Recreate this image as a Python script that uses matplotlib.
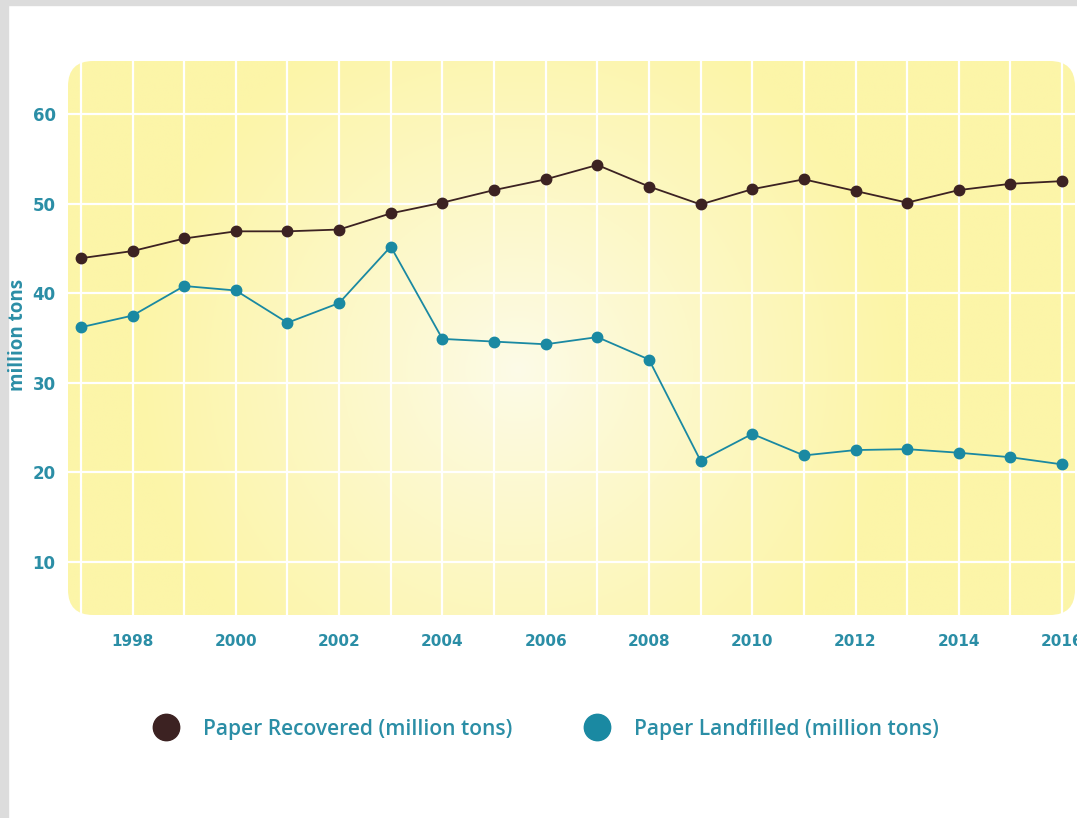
import numpy as np
import matplotlib
matplotlib.use("Agg")
from matplotlib import pyplot as plt
from matplotlib.patches import FancyBboxPatch, Rectangle
from matplotlib.lines import Line2D

years = list(range(1997, 2017))
recovered = [43.9, 44.7, 46.1, 46.9, 46.9, 47.1, 48.9, 50.1, 51.5, 52.7,
             54.3, 51.9, 49.9, 51.6, 52.7, 51.4, 50.1, 51.5, 52.2, 52.5]
landfilled = [36.2, 37.5, 40.8, 40.3, 36.7, 38.9, 45.2, 34.9, 34.6, 34.3,
              35.1, 32.6, 21.3, 24.3, 21.9, 22.5, 22.6, 22.2, 21.7, 20.9]
ytick_vals = [10, 20, 30, 40, 50, 60]
xtick_labels = [str(y) if y % 2 == 0 else "" for y in years]

teal_txt = "#2b8ea6"
brown = "#3c2222"
teal = "#1a89a2"
fam = ["Liberation Sans Narrow", "DejaVu Sans"]

fig = plt.figure(figsize=(10.77, 8.18), dpi=100)
fig.patch.set_facecolor("white")
# gray frame left/top
fig.patches.append(Rectangle((0, 0), 8 / 1077, 1, transform=fig.transFigure,
                             color="#dcdcdc", zorder=0))
fig.patches.append(Rectangle((0, 1 - 5 / 818), 1, 5 / 818, transform=fig.transFigure,
                             color="#dcdcdc", zorder=0))

ax = fig.add_axes([68 / 1077, 1 - 615 / 818, (1075 - 68) / 1077, (615 - 61) / 818])
xmin, xmax = 1996.75, 2016.25
ymin, ymax = 4.1, 65.9
ax.set_xlim(xmin, xmax)
ax.set_ylim(ymin, ymax)
ax.set_facecolor("none")
for s in ax.spines.values():
    s.set_visible(False)

# rounded background with radial glow
bg = FancyBboxPatch((0, 0), 1, 1, boxstyle="round,pad=0,rounding_size=0.025",
                    transform=ax.transAxes, facecolor="none", edgecolor="none",
                    mutation_aspect=1007 / 554)
ax.add_patch(bg)
nx, ny = 400, 220
gx, gy = np.meshgrid(np.linspace(0, 1007, nx), np.linspace(0, 554, ny))
r = np.sqrt((gx - 450) ** 2 + (gy - 245) ** 2) / 380
t = np.clip(r, 0, 1) ** 0.9
edge = np.array([252, 245, 168]) / 255
center = np.array([253, 251, 232]) / 255
img = center[None, None, :] * (1 - t[..., None]) + edge[None, None, :] * t[..., None]
im = ax.imshow(img[::-1], extent=[xmin, xmax, ymin, ymax], aspect="auto",
               origin="upper", zorder=0)
im.set_clip_path(bg)

ax.set_xticks(years)
ax.set_xticklabels(xtick_labels)
ax.set_yticks(ytick_vals)
ax.grid(True, color="white", lw=1.6, zorder=1)
ax.set_axisbelow(False)
ax.tick_params(length=0, colors=teal_txt)
for lab in ax.get_xticklabels():
    lab.set_fontfamily(fam)
    lab.set_fontweight("bold")
    lab.set_fontsize(11)
for lab in ax.get_yticklabels():
    lab.set_fontfamily(fam)
    lab.set_fontweight("bold")
    lab.set_fontsize(12)
ax.tick_params(axis="y", pad=9)
ax.tick_params(axis="x", pad=14)

ax.plot(years, recovered, color=brown, lw=1.3, marker="o", ms=7.5, zorder=3)
ax.plot(years, landfilled, color=teal, lw=1.3, marker="o", ms=7.5, zorder=3)

fig.text(18 / 1077, 1 - 335 / 818, "million tons", rotation=90, ha="center", va="center",
         color=teal_txt, fontsize=13.5, fontweight="bold", family=["Open Sans", "DejaVu Sans"])

handles = [Line2D([], [], ls="none", marker="o", ms=19, color=brown),
           Line2D([], [], ls="none", marker="o", ms=19, color=teal)]
leg = fig.legend(handles, ["Paper Recovered (million tons)", "Paper Landfilled (million tons)"],
                 loc="center", bbox_to_anchor=(542 / 1077, 1 - 729 / 818), ncol=2,
                 frameon=False, columnspacing=3.0, handletextpad=0.8,
                 prop={"family": ["Open Sans", "DejaVu Sans"], "weight": "semibold", "size": 15.1})
for txt in leg.get_texts():
    txt.set_color(teal_txt)

fig.savefig("out.png", dpi=100)
